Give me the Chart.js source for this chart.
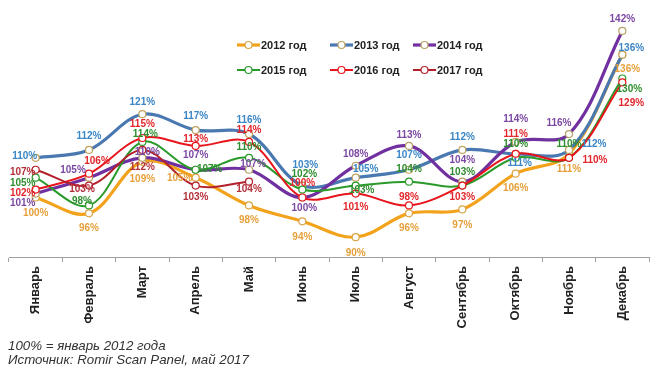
<!DOCTYPE html>
<html>
<head>
<meta charset="utf-8">
<script src="https://cdn.jsdelivr.net/npm/chart.js@4/dist/chart.umd.min.js"></script>
<style>
  html, body { margin: 0; padding: 0; background: #ffffff; }
  #wrap { position: relative; width: 664px; height: 374px; overflow: hidden; }
  #c { position: absolute; left: 0; top: 0; }
  #note { position: absolute; left: 8px; top: 339px; font: italic 13.3px "Liberation Sans", Arial, sans-serif; line-height: 14px; color: #333; }
</style>
</head>
<body>
<div id="wrap">
  <canvas id="c" width="664" height="374"></canvas>
  <div id="note">100% = январь 2012 года<br>Источник: Romir Scan Panel, май 2017</div>
</div>
<script>
// ---- data ----
const months = ["Январь","Февраль","Март","Апрель","Май","Июнь","Июль","Август","Сентябрь","Октябрь","Ноябрь","Декабрь"];
const seriesNames = ["2012 год","2013 год","2014 год","2015 год","2016 год","2017 год"];
const y2012 = [100, 96, 109, 105, 98, 94, 90, 96, 97, 106, 111, 136];
const y2013 = [110, 112, 121, 117, 116, 103, 105, 107, 112, 111, 112, 136];
const y2014 = [101, 105, 110, 107, 107, 100, 108, 113, 104, 114, 116, 142];
const y2015 = [105, 98, 114, 107, 110, 102, 103, 104, 103, 110, 110, 130];
const y2016 = [102, 106, 115, 113, 114, 100, 101, 98, 103, 111, 110, 129];
const y2017 = [107, 103, 112, 103, 104, null, null, null, null, null, null, null];

// ---- label placement (offsets from each point, px) ----
const off2012 = [[0,16],[0,15],[0,17],[-16,1],[0,15],[0,16],[0,16],[0,15],[0,16],[0,15],[0,15],[5,15]];
const off2013 = [[-11,-2],[0,-14],[0,-12],[0,-14],[0,-14],[3,-20],[10,-8],[0,-14],[0,-13],[4,9],[25,-6],[9,-6]];
const off2014 = [[-13,10],[-16,-7],[5,-6],[0,-14],[4,-5],[2,11],[0,-12],[0,-11],[0,-21],[0,-23],[-10,-11],[0,-12]];
const off2015 = [[-13,6],[-7,-4],[3,-8],[14,0],[0,-11],[2,-15],[6,5],[0,-12],[0,-13],[0,-14],[0,-14],[7,11]];
const off2016 = [[-13,4],[8,-12],[0,-14],[0,-7],[0,-12],[0,-14],[0,14],[0,-8],[0,12],[0,-20],[26,2],[9,21]];
const off2017 = [[-13,3],[-7,4],[0,17],[0,12],[0,8]];

// ---- styles ----
const lineColors  = ["#F2A31B","#4A78B0","#7030A0","#2A9A2A","#E8141C","#B3202C"];
const labelColors = ["#E6A03A","#3A86C6","#7B48A2","#2E8E2E","#E2262B","#B3303A"];
const markerBorders = ["#D9A443","#BFA45E","#B5A266","#2A9A2A","#E8141C","#B3202C"];
const lineWidths = [3.2, 3.2, 3.2, 2, 2, 2];

const values = [y2012, y2013, y2014, y2015, y2016, y2017];
const offsets = [off2012, off2013, off2014, off2015, off2016, off2017];

const FONT = '"Liberation Sans", Arial, sans-serif';

const datasets = values.map((v, i) => ({
  label: seriesNames[i],
  data: v,
  borderColor: lineColors[i],
  borderWidth: lineWidths[i],
  tension: 0.35,
  pointRadius: 3.5,
  pointHoverRadius: 3.5,
  pointBackgroundColor: "#ffffff",
  pointBorderColor: markerBorders[i],
  pointBorderWidth: 1.2,
  fill: false,
  spanGaps: false,
  clip: false,
  order: 6 - i
}));

const labelPlugin = {
  id: 'valueLabels',
  afterDatasetsDraw(chart) {
    const ctx = chart.ctx;
    ctx.save();
    ctx.font = 'bold 10px ' + FONT;
    ctx.textAlign = 'center';
    ctx.textBaseline = 'middle';
    chart.data.datasets.forEach((ds, i) => {
      const meta = chart.getDatasetMeta(i);
      meta.data.forEach((pt, j) => {
        const v = ds.data[j];
        if (v === null || v === undefined) return;
        const o = offsets[i][j] || [0, -12];
        ctx.fillStyle = labelColors[i];
        ctx.fillText(v + '%', pt.x + o[0], pt.y + o[1]);
      });
    });
    ctx.restore();
  }
};

const legendPlugin = {
  id: 'customLegend',
  afterDraw(chart) {
    const ctx = chart.ctx;
    const cols = [237, 330, 413];
    const rows = [45, 70];
    ctx.save();
    ctx.font = 'bold 11px ' + FONT;
    ctx.textBaseline = 'middle';
    ctx.textAlign = 'left';
    chart.data.datasets.forEach((ds, i) => {
      const x = cols[i % 3], y = rows[Math.floor(i / 3)];
      ctx.strokeStyle = ds.borderColor;
      ctx.lineWidth = ds.borderWidth;
      ctx.beginPath(); ctx.moveTo(x, y); ctx.lineTo(x + 23, y); ctx.stroke();
      ctx.beginPath(); ctx.arc(x + 11.5, y, 3.5, 0, Math.PI * 2);
      ctx.fillStyle = '#fff'; ctx.fill();
      ctx.lineWidth = 1.2; ctx.strokeStyle = ds.pointBorderColor; ctx.stroke();
      ctx.fillStyle = '#222';
      ctx.fillText(ds.label, x + 24, y + 0.5);
    });
    ctx.restore();
  }
};

new Chart(document.getElementById('c'), {
  type: 'line',
  data: { labels: months, datasets },
  options: {
    responsive: false,
    animation: false,
    devicePixelRatio: 1,
    events: [],
    layout: { padding: { top: 19, left: 9, right: 15, bottom: 0 } },
    plugins: { legend: { display: false }, tooltip: { enabled: false } },
    scales: {
      y: { display: false, min: 85, max: 145 },
      x: {
        offset: true,
        afterFit(scale) { scale.height = 117; },
        grid: { display: true, drawOnChartArea: false, drawTicks: true, tickLength: 5, offset: true, color: '#A0A0A0' },
        border: { display: true, color: '#A0A0A0', width: 1 },
        ticks: {
          autoSkip: false, minRotation: 90, maxRotation: 90, padding: 4,
          color: '#222', font: { family: FONT, size: 13, weight: 'bold' }
        }
      }
    }
  },
  plugins: [labelPlugin, legendPlugin]
});
</script>
</body>
</html>
